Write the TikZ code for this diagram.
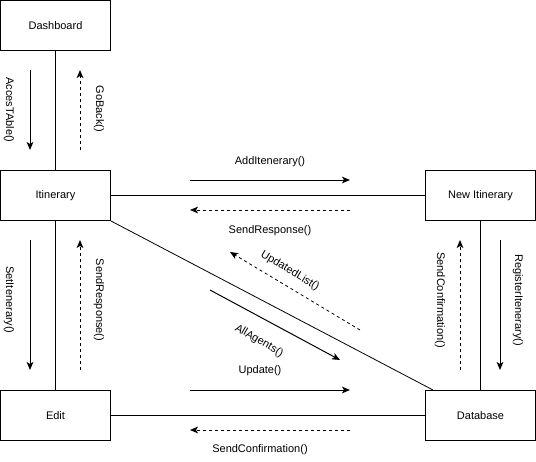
\documentclass[tikz,border=0pt]{standalone}
\usepackage{fontspec}
\setmainfont{Liberation Sans}
\usetikzlibrary{arrows.meta,calc}
\tikzset{
  box/.style={draw=black, line width=0.75pt, fill=white, inner sep=0pt,
    minimum width=82.5pt, minimum height=37.5pt, font=\fontsize{8.25pt}{10pt}\selectfont},
  link/.style={draw=black, line width=0.75pt},
  msg/.style={line width=0.75pt, -{Stealth[length=6pt,width=5pt,inset=1.5pt]}},
  reply/.style={msg, dash pattern=on 2.25pt off 2.25pt},
  lbl/.style={inner sep=0pt, font=\fontsize{8.25pt}{10pt}\selectfont}
}
\begin{document}
\begin{tikzpicture}[x=0.75pt,y=-0.75pt]
\useasboundingbox (0,0) rectangle (536,461);
% boxes
\node[box] (dash) at (55.5,25.5) {Dashboard};
\node[box] (itin) at (55.5,195.5) {Itinerary};
\node[box] (edit) at (55.5,415.5) {Edit};
\node[box] (newi) at (480.5,195.5) {New Itinerary};
\node[box] (db) at (480.5,415.5) {Database};
% links
\draw[link] (dash) -- (itin);
\draw[link] (itin) -- (edit);
\draw[link] (itin) -- (newi);
\draw[link] (edit) -- (db);
\draw[link] (newi) -- (db);
\draw[link, line width=0.6pt] (itin.south east) -- ($(db.north west)+(8,0)$);
% message end points
\coordinate (a1s) at (30,70);  \coordinate (a1e) at (30,150);
\coordinate (a2s) at (80,150); \coordinate (a2e) at (80,70);
\coordinate (a3s) at (190,180); \coordinate (a3e) at (350,180);
\coordinate (a4s) at (350,210); \coordinate (a4e) at (190,210);
\coordinate (a5s) at (30,240); \coordinate (a5e) at (30,370);
\coordinate (a6s) at (80,370); \coordinate (a6e) at (80,240);
\coordinate (a7s) at (500,240); \coordinate (a7e) at (500,370);
\coordinate (a8s) at (460,370); \coordinate (a8e) at (460,240);
\coordinate (a9s) at (190,390); \coordinate (a9e) at (350,390);
\coordinate (a10s) at (350,430); \coordinate (a10e) at (190,430);
\coordinate (a11s) at (210,290); \coordinate (a11e) at (340,360);
\coordinate (a12s) at (360,330); \coordinate (a12e) at (230,252);
% messages
\draw[msg] (a1s) -- (a1e);
\draw[reply] (a2s) -- (a2e);
\draw[msg] (a3s) -- (a3e);
\draw[reply] (a4s) -- (a4e);
\draw[msg] (a5s) -- (a5e);
\draw[reply] (a6s) -- (a6e);
\draw[msg] (a7s) -- (a7e);
\draw[reply] (a8s) -- (a8e);
\draw[msg] (a9s) -- (a9e);
\draw[reply] (a10s) -- (a10e);
\draw[msg] (a11s) -- (a11e);
\draw[reply, line width=0.6pt] (a12s) -- (a12e);
% labels
\node[lbl, rotate=-90] (l1) at (9,110) {AccesTAble()};
\node[lbl, rotate=-90] (l2) at (99,109) {GoBack()};
\node[lbl] (l3) at (270,162) {AddItenerary()};
\node[lbl] (l4) at (270,231) {SendResponse()};
\node[lbl, rotate=-90] (l5) at (9,300) {SetItenerary()};
\node[lbl, rotate=-90] (l6) at (99,300) {SendResponse()};
\node[lbl, rotate=-90] (l7) at (518,300) {RegisterItenerary()};
\node[lbl, rotate=-90] (l8) at (440,300) {SendConfirmation()};
\node[lbl] (l9) at (260,371) {Update()};
\node[lbl] (l10) at (260,450) {SendConfirmation()};
\node[lbl, rotate=-30] (l11) at (259,341) {AllAgents()};
\node[lbl, rotate=-31] (l12) at (290,271) {UpdatedList()};
\end{tikzpicture}
\end{document}
